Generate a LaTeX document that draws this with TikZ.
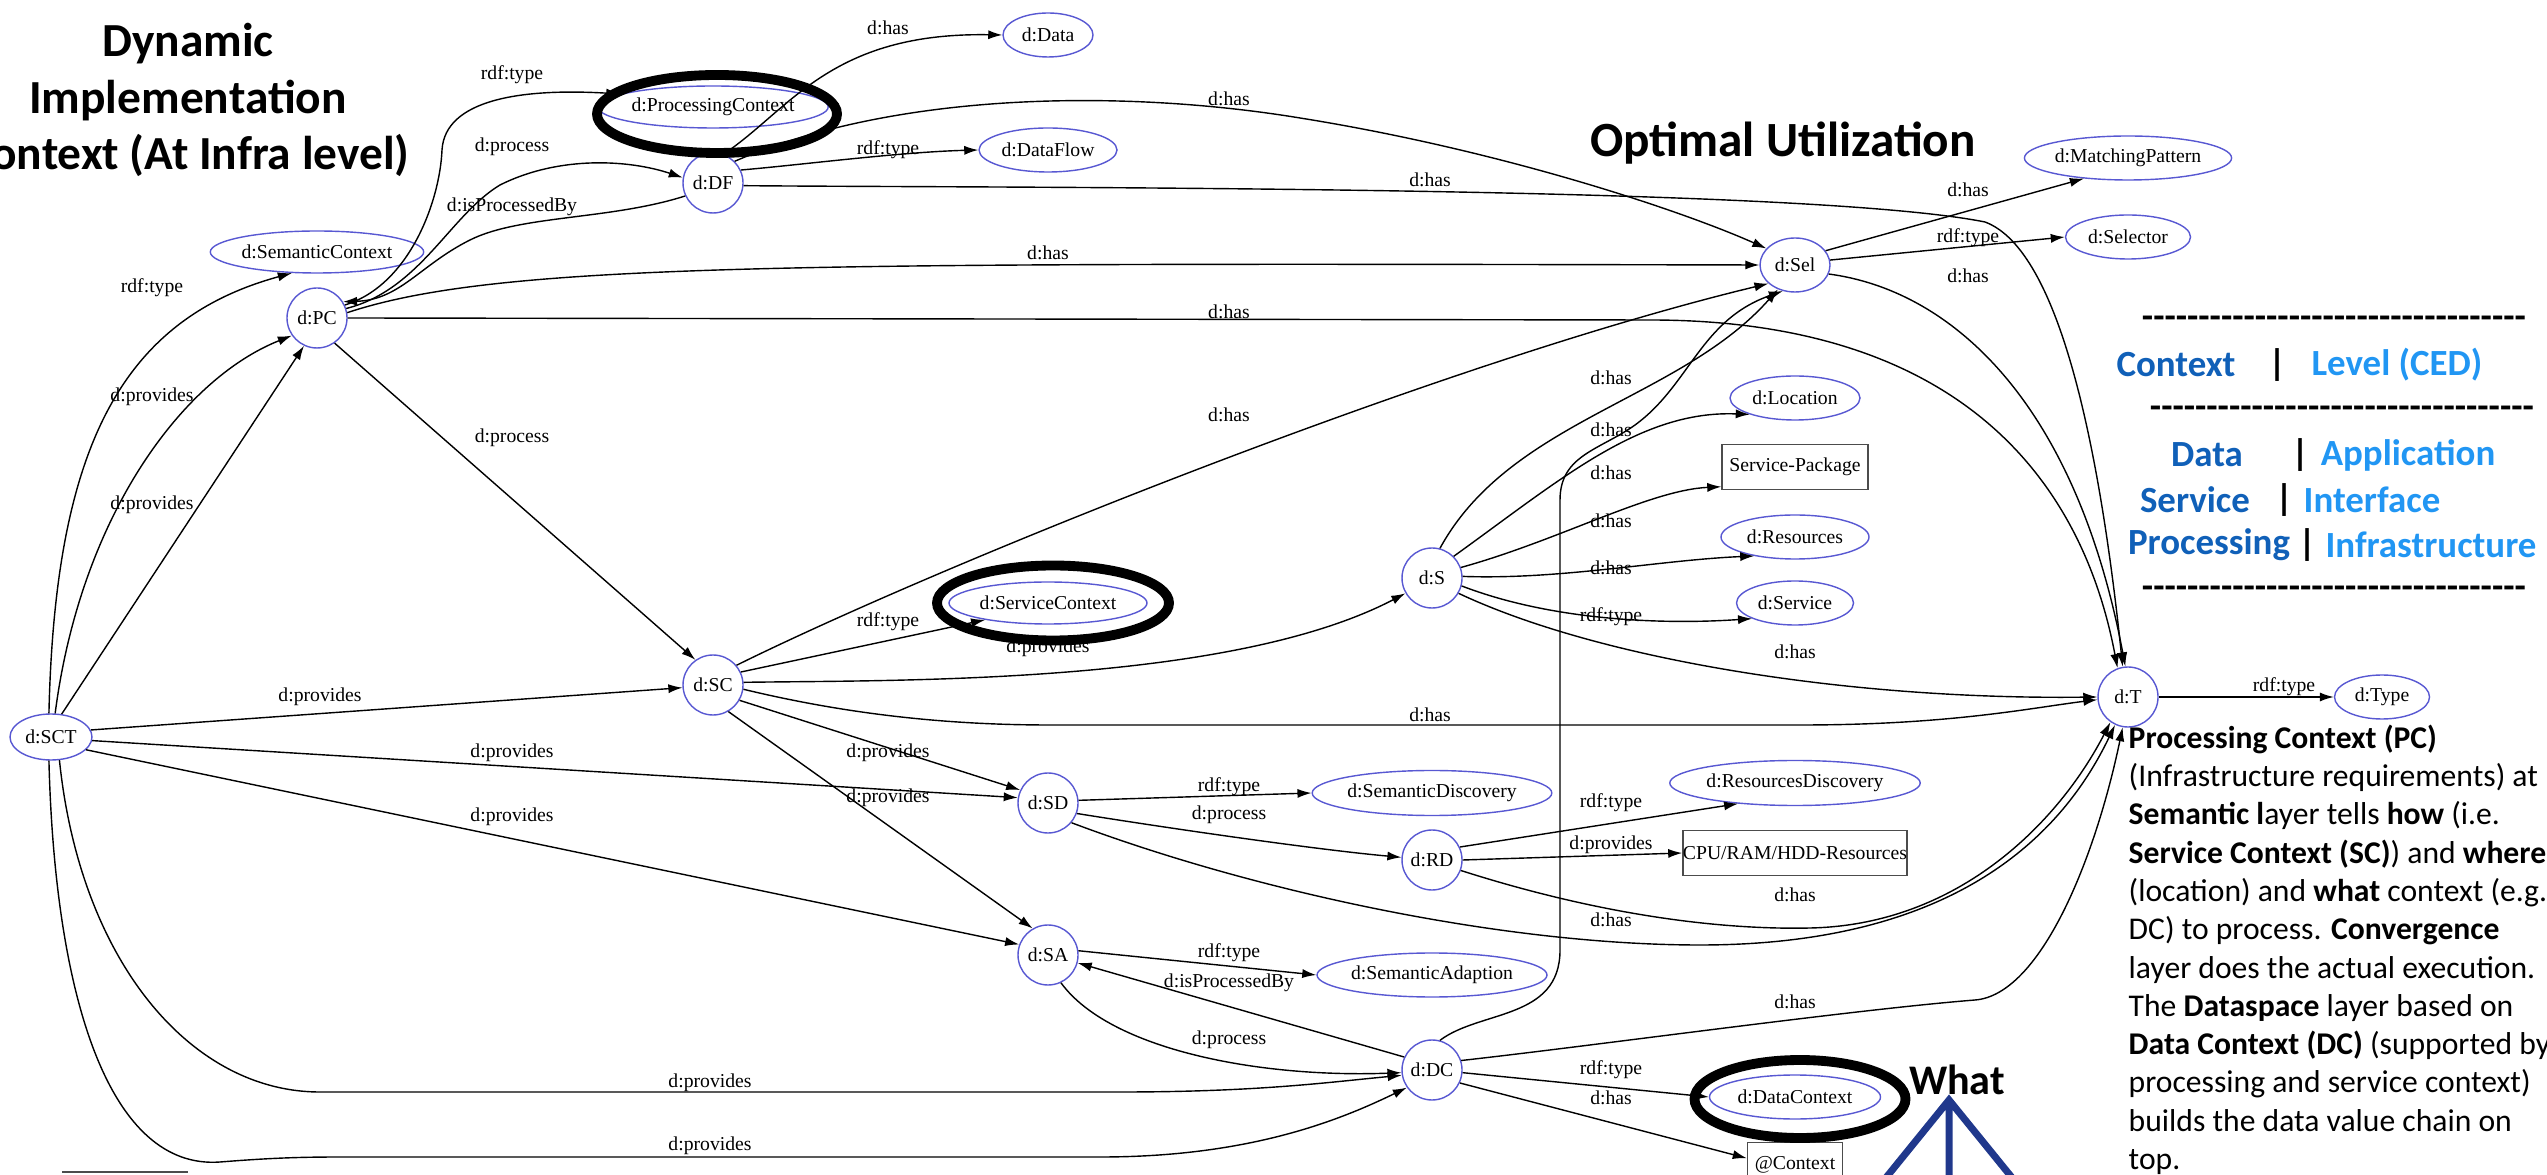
\documentclass[tikz,border=0pt]{standalone}
\usepackage{fontspec}
\setmainfont{Carlito}
\newfontfamily\gvfont{Liberation Serif}
\usetikzlibrary{shapes.geometric,arrows.meta}

\definecolor{gvblue}{RGB}{88,88,210}
\definecolor{ctxdark}{RGB}{16,96,184}
\definecolor{ctxlight}{RGB}{33,150,243}
\definecolor{treeblue}{RGB}{32,56,140}

\newcommand\dashrow{\foreach \k in {1,...,34}{-\kern0pt}}

\tikzset{
  >={Latex[length=4pt,width=2.6pt]},
  gv/.style={ellipse, draw=gvblue, line width=0.4pt, inner sep=0pt,
    font=\gvfont\fontsize{5.6pt}{6.5pt}\selectfont},
  gvc/.style={gv, circle, minimum size=6mm},
  gvbox/.style={rectangle, draw=black!70, line width=0.4pt, inner sep=0pt,
    font=\gvfont\fontsize{5.6pt}{6.5pt}\selectfont},
  ring/.style={ellipse, draw=black, line width=2.8pt, inner sep=0pt},
  elab/.style={inner sep=0pt, font=\gvfont\fontsize{5.6pt}{6.5pt}\selectfont},
  rel/.style={->, line width=0.4pt},
  legend/.style={inner sep=0pt, font=\bfseries\fontsize{10.5pt}{12.6pt}\selectfont}
}

\begin{document}
\begin{tikzpicture}[x=0.1mm,y=-0.1mm]
  \useasboundingbox (0,0) rectangle (2547,1175);
  % columns of the graph
  \def\Xa{51}
  \def\Xb{317}
  \def\Xc{713}
  \def\Xd{1048}
  \def\Xe{1432}
  \def\Xf{1795}
  \def\Xg{2128}
  \def\Xh{2382}
  % label columns
  \def\La{152}
  \def\Lb{512}
  \def\Lc{888}
  \def\Ld{1229}
  \def\Le{1611}
  \def\Lf{1968}
  \def\Lg{2284}

  % titles
  \node[align=center, font=\bfseries\fontsize{13.5pt}{16.2pt}\selectfont] (title) at (188,100)
    {Dynamic\\Implementation\\Context (At Infra level)};
  \node[font=\bfseries\fontsize{14pt}{17pt}\selectfont] (optim) at (1783,143) {Optimal Utilization};

  % graph nodes
  \node[gv, minimum width=8.2mm, minimum height=4.6mm] (SCT) at (\Xa,737) {d:SCT};
  \node[gv, minimum width=19.5mm, minimum height=4.2mm] (SemCtx) at (\Xb,252) {d:SemanticContext};
  \node[gvc] (PC) at (\Xb,318) {d:PC};
  \node[gv, minimum width=22.5mm, minimum height=4.2mm] (ProcCtx) at (\Xc,107) {d:ProcessingContext};
  \node[gvc] (DF) at (\Xc,183) {d:DF};
  \node[gv, minimum width=9mm, minimum height=4.4mm] (Data) at (\Xd,35) {d:Data};
  \node[gv, minimum width=13.8mm, minimum height=4.4mm] (DataFlow) at (\Xd,150) {d:DataFlow};
  \node[gv, minimum width=7mm, minimum height=5.4mm] (Sel) at (\Xf,265) {d:Sel};
  \node[gv, minimum width=20mm, minimum height=4.4mm] (MP) at (\Xg,158) {d:MatchingPattern};
  \node[gv, minimum width=12.5mm, minimum height=4.4mm] (Selector) at (\Xg,237) {d:Selector};
  \node[gv, minimum width=13mm, minimum height=4.4mm] (Loc) at (\Xf,398) {d:Location};
  \node[gvbox, minimum width=14.6mm, minimum height=4.5mm] (SP) at (\Xf,467) {Service-Package};
  \node[gv, minimum width=14.8mm, minimum height=4.4mm] (Res) at (\Xf,537) {d:Resources};
  \node[gv, minimum width=11.7mm, minimum height=4.4mm] (Serv) at (\Xf,603) {d:Service};
  \node[gvc] (S) at (\Xe,578) {d:S};
  \node[gv, minimum width=19.8mm, minimum height=4.2mm] (ServCtx) at (\Xd,603) {d:ServiceContext};
  \node[gvc] (SC) at (\Xc,685) {d:SC};
  \node[gvc] (T) at (\Xg,697) {d:T};
  \node[gv, minimum width=9.5mm, minimum height=4.4mm] (Type) at (\Xh,697) {d:Type};
  \node[gvc] (SD) at (\Xd,803) {d:SD};
  \node[gv, minimum width=23.3mm, minimum height=4.5mm] (SemDisc) at (\Xe,793) {d:SemanticDiscovery};
  \node[gv, minimum width=24.6mm, minimum height=4.5mm] (ResDisc) at (\Xf,783) {d:ResourcesDiscovery};
  \node[gvbox, minimum width=22.3mm, minimum height=4.5mm] (CPU) at (\Xf,853) {CPU/RAM/HDD-Resources};
  \node[gvc] (RD) at (\Xe,860) {d:RD};
  \node[gvc] (SA) at (\Xd,955) {d:SA};
  \node[gv, minimum width=23mm, minimum height=4.4mm] (SemAd) at (\Xe,975) {d:SemanticAdaption};
  \node[gvc] (DC) at (\Xe,1070) {d:DC};
  \node[gv, minimum width=17.1mm, minimum height=4.4mm] (DataCtx) at (\Xf,1097) {d:DataContext};
  \node[gvbox, minimum width=9.5mm, minimum height=4.5mm] (AtCtx) at (\Xf,1165) {@Context};

  % highlight rings
  \node[ring, minimum width=24mm, minimum height=7.8mm] (ringPC) at (717,114) {};
  \node[ring, minimum width=23.2mm, minimum height=7.5mm] (ringSC) at (1053,603) {};
  \node[ring, minimum width=21.1mm, minimum height=7.8mm] (ringDC) at (1800,1099) {};

  % from SCT
  \draw[rel] (SCT.95) .. controls (55,450) and (120,320) .. (SemCtx.220);
  \draw[rel] (SCT.80) .. controls (80,520) and (180,380) .. (PC.215);
  \draw[rel] (SCT.65) -- (PC.245);
  \draw[rel] (SCT.10) -- (SC.185);
  \draw[rel] (SCT.-5) -- (SD.170);
  \draw[rel] (SCT.-20) -- (SA.160);
  \draw[rel] (SCT.-70) .. controls (80,960) and (190,1092) .. (320,1092) -- (1120,1092)
    .. controls (1260,1092) and (1330,1082) .. (DC.190);
  \draw[rel] (SCT.-95) .. controls (55,1000) and (110,1170) .. (220,1162)
    .. controls (270,1158) and (300,1157) .. (340,1157) -- (1100,1157)
    .. controls (1250,1157) and (1340,1120) .. (DC.215);

  % from PC and DF
  \draw[rel] (PC.25) .. controls (410,285) and (440,200) .. (442,150)
    .. controls (445,100) and (520,88) .. (ProcCtx.172);
  \draw[rel] (PC.18) .. controls (420,290) and (450,215) .. (500,185)
    .. controls (560,155) and (630,160) .. (DF.170);
  \draw[rel] (DF.205) .. controls (610,220) and (520,215) .. (470,240)
    .. controls (420,265) and (400,300) .. (PC.32);
  \draw[rel] (PC.10) .. controls (500,262) and (800,263) .. (Sel.west);
  \draw[rel] (PC.east) -- (1650,320) .. controls (1950,320) and (2080,470) .. (T.110);
  \draw[rel] (PC.-55) -- (SC.125);
  \draw[rel] (DF.70) .. controls (790,110) and (830,32) .. (Data.west);
  \draw[rel] (DF.25) .. controls (800,165) and (900,152) .. (DataFlow.west);
  \draw[rel] (DF.45) .. controls (900,90) and (1130,90) .. (1300,118)
    .. controls (1500,150) and (1680,210) .. (Sel.150);
  \draw[rel] (DF.-5) .. controls (1000,188) and (1800,185) .. (1985,222)
    .. controls (2060,250) and (2100,450) .. (T.100);

  % from Sel
  \draw[rel] (Sel.25) -- (MP.205);
  \draw[rel] (Sel.8) -- (Selector.west);
  \draw[rel] (Sel.-15) .. controls (1950,290) and (2075,400) .. (T.95);

  % from SC
  \draw[rel] (SC.40) .. controls (950,560) and (1450,360) .. (Sel.215);
  \draw[rel] (SC.25) -- (ServCtx.195);
  \draw[rel] (SC.5) .. controls (900,680) and (1230,685) .. (S.210);
  \draw[rel] (SC.-8) .. controls (850,715) and (950,725) .. (1050,725) -- (1800,725)
    .. controls (1950,725) and (2030,708) .. (T.185);
  \draw[rel] (SC.-30) -- (SD.155);
  \draw[rel] (SC.-60) -- (SA.120);

  % from S
  \draw[rel] (S.75) .. controls (1510,420) and (1680,400) .. (Sel.235);
  \draw[rel] (S.45) .. controls (1560,480) and (1640,410) .. (Loc.200);
  \draw[rel] (S.20) .. controls (1560,540) and (1650,490) .. (SP.195);
  \draw[rel] (S.3) .. controls (1560,580) and (1660,560) .. (Res.205);
  \draw[rel] (S.-15) .. controls (1550,620) and (1660,625) .. (Serv.200);
  \draw[rel] (S.-30) .. controls (1600,660) and (1850,700) .. (T.180);

  % from SD and RD
  \draw[rel] (SD.5) -- (SemDisc.west);
  \draw[rel] (SD.-20) .. controls (1180,830) and (1320,850) .. (RD.175);
  \draw[rel] (SD.-40) .. controls (1250,890) and (1500,945) .. (1700,945)
    .. controls (1950,945) and (2060,840) .. (T.245);
  \draw[rel] (RD.25) -- (ResDisc.200);
  \draw[rel] (RD.east) -- (CPU.west);
  \draw[rel] (RD.-20) .. controls (1600,915) and (1720,930) .. (1810,928)
    .. controls (1960,925) and (2060,820) .. (T.235);

  % from SA and DC
  \draw[rel] (SA.8) -- (SemAd.west);
  \draw[rel] (DC.155) -- (SA.-15);
  \draw[rel] (SA.-65) .. controls (1110,1050) and (1260,1078) .. (DC.185);
  \draw[rel] (DC.75) .. controls (1480,1010) and (1560,1020) .. (1560,950) -- (1560,500)
    .. controls (1560,455) and (1600,450) .. (1635,425)
    .. controls (1690,385) and (1700,320) .. (Sel.245);
  \draw[rel] (DC.-5) -- (DataCtx.west);
  \draw[rel] (DC.-25) -- (AtCtx.172);
  \draw[rel] (DC.18) .. controls (1600,1045) and (1850,1010) .. (1975,1000)
    .. controls (2040,995) and (2095,860) .. (T.260);

  % T
  \draw[rel] (T.east) -- (Type.west);

  % edge labels
  \node[elab] (l01) at (\La,288) {rdf:type};
  \node[elab] (l02) at (\La,397) {d:provides};
  \node[elab] (l03) at (\La,505) {d:provides};
  \node[elab] (l04) at (320,697) {d:provides};
  \node[elab] (l05) at (\Lb,753) {d:provides};
  \node[elab] (l06) at (\Lb,817) {d:provides};
  \node[elab] (l07) at (710,1083) {d:provides};
  \node[elab] (l08) at (710,1146) {d:provides};
  \node[elab] (l09) at (\Lb,75) {rdf:type};
  \node[elab] (l10) at (\Lb,147) {d:process};
  \node[elab] (l11) at (\Lb,207) {d:isProcessedBy};
  \node[elab] (l12) at (\Lb,438) {d:process};
  \node[elab] (l13) at (\Lc,28) {d:has};
  \node[elab] (l14) at (\Lc,150) {rdf:type};
  \node[elab] (l15) at (\Ld,99) {d:has};
  \node[elab] (l16) at (1430,180) {d:has};
  \node[elab] (l17) at (\Xd,253) {d:has};
  \node[elab] (l18) at (\Ld,312) {d:has};
  \node[elab] (l19) at (\Ld,415) {d:has};
  \node[elab] (l20) at (\Lc,622) {rdf:type};
  \node[elab] (l21) at (\Xd,648) {d:provides};
  \node[elab] (l22) at (1430,715) {d:has};
  \node[elab] (l23) at (\Lc,753) {d:provides};
  \node[elab] (l24) at (\Lc,798) {d:provides};
  \node[elab] (l25) at (\Le,378) {d:has};
  \node[elab] (l26) at (\Le,430) {d:has};
  \node[elab] (l27) at (\Le,473) {d:has};
  \node[elab] (l28) at (\Le,521) {d:has};
  \node[elab] (l29) at (\Le,568) {d:has};
  \node[elab] (l30) at (\Le,617) {rdf:type};
  \node[elab] (l31) at (\Xf,652) {d:has};
  \node[elab] (l32) at (\Lf,190) {d:has};
  \node[elab] (l33) at (\Lf,238) {rdf:type};
  \node[elab] (l34) at (\Lf,276) {d:has};
  \node[elab] (l35) at (\Lg,687) {rdf:type};
  \node[elab] (l36) at (\Ld,787) {rdf:type};
  \node[elab] (l37) at (\Ld,815) {d:process};
  \node[elab] (l38) at (\Le,803) {rdf:type};
  \node[elab] (l39) at (\Le,845) {d:provides};
  \node[elab] (l40) at (\Xf,895) {d:has};
  \node[elab] (l41) at (\Le,920) {d:has};
  \node[elab] (l42) at (\Ld,953) {rdf:type};
  \node[elab] (l43) at (\Ld,983) {d:isProcessedBy};
  \node[elab] (l44) at (\Ld,1040) {d:process};
  \node[elab] (l45) at (\Le,1070) {rdf:type};
  \node[elab] (l46) at (\Le,1098) {d:has};
  \node[elab] (l47) at (\Xf,1002) {d:has};

  % legend
  \node[legend] (dash1) at (2334,322) {\dashrow};
  \node[legend, text=ctxdark] (lgCtx) at (2176,365) {Context};
  \node[legend] (bar1) at (2277,365) {|};
  \node[legend, text=ctxlight] (lgLvl) at (2397,365) {Level (CED)};
  \node[legend] (dash2) at (2342,412) {\dashrow};
  \node[legend, text=ctxdark] (lgData) at (2207,455) {Data};
  \node[legend] (bar2) at (2300,455) {|};
  \node[legend, text=ctxlight] (lgApp) at (2408,455) {Application};
  \node[legend, text=ctxdark] (lgServ) at (2195,500) {Service};
  \node[legend] (bar3) at (2284,500) {|};
  \node[legend, text=ctxlight] (lgIfc) at (2372,500) {Interface};
  \node[legend, text=ctxdark] (lgProc) at (2209,545) {Processing};
  \node[legend] (bar4) at (2307,545) {|};
  \node[legend, text=ctxlight] (lgInfra) at (2431,545) {Infrastructure};
  \node[legend] (dash3) at (2334,592) {\dashrow};

  % note
  \node[anchor=north west, inner sep=0pt, align=left,
    font=\fontsize{9pt}{10.9pt}\selectfont] (note) at (\Xg,724)
    {\textbf{Processing Context (PC)}\\
     (Infrastructure requirements) at\\
     \textbf{Semantic l}ayer tells \textbf{how} (i.e.\\
     \textbf{Service Context (SC)}) and \textbf{where}\\
     (location) and \textbf{what} context (e.g.\\
     DC) to process. \textbf{Convergence}\\
     layer does the actual execution.\\
     The \textbf{Dataspace} layer based on\\
     \textbf{Data Context (DC)} (supported by\\
     processing and service context)\\
     builds the data value chain on\\
     top.};

  % what
  \node[font=\bfseries\fontsize{12pt}{14pt}\selectfont] (what) at (1957,1080) {What};
  \coordinate (apex) at (1949,1100);
  \coordinate (footL) at (1876,1190);
  \coordinate (footM) at (1949,1190);
  \coordinate (footR) at (2022,1190);
  \draw[treeblue, line width=2pt] (footL) -- (apex) -- (footR) (apex) -- (footM);

  % scale bar
  \draw[black!70, line width=0.4pt] (62,1172) -- (188,1172);
\end{tikzpicture}
\end{document}
